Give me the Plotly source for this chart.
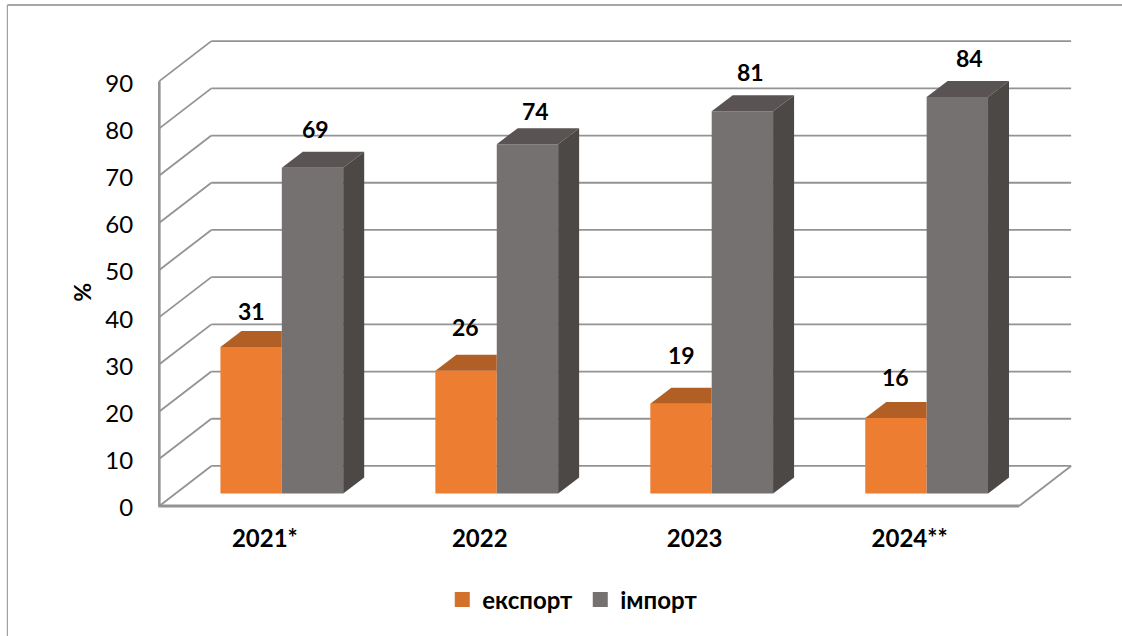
import plotly.graph_objects as go

categories = ["2021*", "2022", "2023", "2024**"]
export_values = [31, 26, 19, 16]
import_values = [69, 74, 81, 84]
y_ticks = [0, 10, 20, 30, 40, 50, 60, 70, 80, 90]

# small manual nudges of the value labels, in pixels (dx, dy from the bar's front-top centre)
export_label_nudge = [(0, -36), (-1, -44), (0, -49), (0, -41)]
import_label_nudge = [(3, -39), (8, -33), (8, -39), (12, -39)]

W, H = 1122, 636
PX_X0, PX_Y0 = 159.0, 505.5      # pixel of data (0, 0)
PX_PER_CAT = 215.0
PX_PER_UNIT = 424.8 / 90
ORANGE, ORANGE_TOP, ORANGE_LEG = "#ED7D31", "#B25F25", "#D2702C"
GRAY, GRAY_TOP, GRAY_SIDE = "#767171", "#595453", "#4C4846"
GRID = "#939393"
FONT = "Lato"

# oblique projection, in data units
WALL_DX, WALL_DY = 52 / PX_PER_CAT, 40 / PX_PER_UNIT
BAR_DX, BAR_DY = 21 / PX_PER_CAT, 16 / PX_PER_UNIT
BASE = 12.5 / PX_PER_UNIT
BAR_W = 61.4 / PX_PER_CAT
SHIFT = 15 / PX_PER_CAT
N = len(categories)

x_range = [-0.09, N + WALL_DX + 0.06]
y_range = [-1.5, 90 + WALL_DY + 3.0]
m_l = PX_X0 + x_range[0] * PX_PER_CAT
m_r = W - (PX_X0 + x_range[1] * PX_PER_CAT)
m_b = H - (PX_Y0 - y_range[0] * PX_PER_UNIT)
m_t = PX_Y0 - y_range[1] * PX_PER_UNIT
plot_w, plot_h = W - m_l - m_r, H - m_t - m_b


def paper_x(px):
    return (px - m_l) / plot_w


def paper_y(py):
    return 1 - (py - m_t) / plot_h


fig = go.Figure()


def poly(xs, ys, color):
    fig.add_trace(go.Scatter(x=xs + xs[:1], y=ys + ys[:1], mode="lines", fill="toself",
                             fillcolor=color, line=dict(width=0), hoverinfo="skip", showlegend=False))


centres = [i + 0.5 + SHIFT for i in range(N)]
exp_x = [c - BAR_W / 2 for c in centres]
imp_x = [c + BAR_W / 2 for c in centres]

fig.add_trace(go.Bar(x=exp_x, y=export_values, base=BASE, width=BAR_W, marker=dict(color=ORANGE, line_width=0),
                     showlegend=False, hoverinfo="skip"))
fig.add_trace(go.Bar(x=imp_x, y=import_values, base=BASE, width=BAR_W, marker=dict(color=GRAY, line_width=0),
                     showlegend=False, hoverinfo="skip"))

for i in range(N):
    # orange top: the part further right is hidden behind the taller grey bar
    t = BASE + export_values[i]
    l = exp_x[i] - BAR_W / 2
    r = l + BAR_W
    poly([l, l + BAR_DX, r, r], [t, t + BAR_DY, t + BAR_DY, t], ORANGE_TOP)
    # grey top and side
    t = BASE + import_values[i]
    l = imp_x[i] - BAR_W / 2
    r = l + BAR_W
    poly([l, l + BAR_DX, r + BAR_DX, r], [t, t + BAR_DY, t + BAR_DY, t], GRAY_TOP)
    poly([r, r + BAR_DX, r + BAR_DX, r], [BASE, BASE + BAR_DY, t + BAR_DY, t], GRAY_SIDE)

# legend entries
fig.add_trace(go.Scatter(x=[None], y=[None], mode="markers", name="експорт",
                         marker=dict(symbol="square", size=15, color=ORANGE_LEG)))
fig.add_trace(go.Scatter(x=[None], y=[None], mode="markers", name="імпорт",
                         marker=dict(symbol="square", size=15, color=GRAY)))

shapes = []


def seg(x0, y0, x1, y1, width=1.8, color=GRID, xref="x", yref="y"):
    shapes.append(dict(type="line", x0=x0, y0=y0, x1=x1, y1=y1, xref=xref, yref=yref, layer="below",
                       line=dict(color=color, width=width)))


for v in y_ticks:
    seg(0, v, WALL_DX, v + WALL_DY)
    seg(WALL_DX, v + WALL_DY, N + WALL_DX, v + WALL_DY)
seg(N, 0, N + WALL_DX, WALL_DY)
seg(0, 0, 0, 90, width=2.6)
seg(-0.005, 0, N, 0, width=3)

# outer frame of the chart (top and left only)
seg(paper_x(7), paper_y(4.5), paper_x(W), paper_y(4.5), width=1.5, color="#8A8A8A", xref="paper", yref="paper")
seg(paper_x(7), paper_y(4.5), paper_x(7), paper_y(H), width=1.2, color="#A0A0A0", xref="paper", yref="paper")

annotations = []
for i in range(N):
    for vals, xs, nudge in ((export_values, exp_x, export_label_nudge), (import_values, imp_x, import_label_nudge)):
        annotations.append(dict(x=xs[i], y=BASE + vals[i], xref="x", yref="y", text=str(vals[i]), showarrow=False,
                                xshift=nudge[i][0], yshift=-nudge[i][1], xanchor="center", yanchor="middle",
                                font=dict(family=FONT, size=23, color="black", weight="bold")))

annotations.append(dict(x=paper_x(82), y=paper_y(292), xref="paper", yref="paper", text="%", textangle=-90,
                        showarrow=False, xanchor="center", yanchor="middle",
                        font=dict(family=FONT, size=23, color="black", weight="bold")))

fig.update_layout(
    width=W, height=H, margin=dict(l=m_l, r=m_r, t=m_t, b=m_b, autoexpand=False, pad=0),
    plot_bgcolor="white", paper_bgcolor="white", barmode="overlay", shapes=shapes, annotations=annotations,
    font=dict(family=FONT, color="black"),
    xaxis=dict(range=x_range, tickmode="array", tickvals=[i + 0.5 for i in range(N)], ticktext=categories,
               showgrid=False, zeroline=False, showline=False, ticks="outside", ticklen=4, tickcolor="rgba(0,0,0,0)",
               ticklabelshift=-2,
               tickfont=dict(family=FONT, size=24, color="black", weight="bold")),
    yaxis=dict(range=y_range, tickmode="array", tickvals=y_ticks, showgrid=False, zeroline=False, showline=False,
               ticks="outside", ticklen=1, tickcolor="rgba(0,0,0,0)", ticklabelshift=2,
               tickfont=dict(family=FONT, size=24, color="black")),
    legend=dict(orientation="h", x=paper_x(442), y=paper_y(577), xanchor="left", yanchor="top",
                bgcolor="rgba(0,0,0,0)", font=dict(family=FONT, size=24, color="black", weight="bold"),
                itemsizing="trace", traceorder="normal", entrywidth=93, entrywidthmode="pixels"),
    hovermode=False,
)

fig.write_html("out.html", config=dict(displayModeBar=False),
               post_script="document.body.style.margin='0';document.body.style.overflow='hidden';")
